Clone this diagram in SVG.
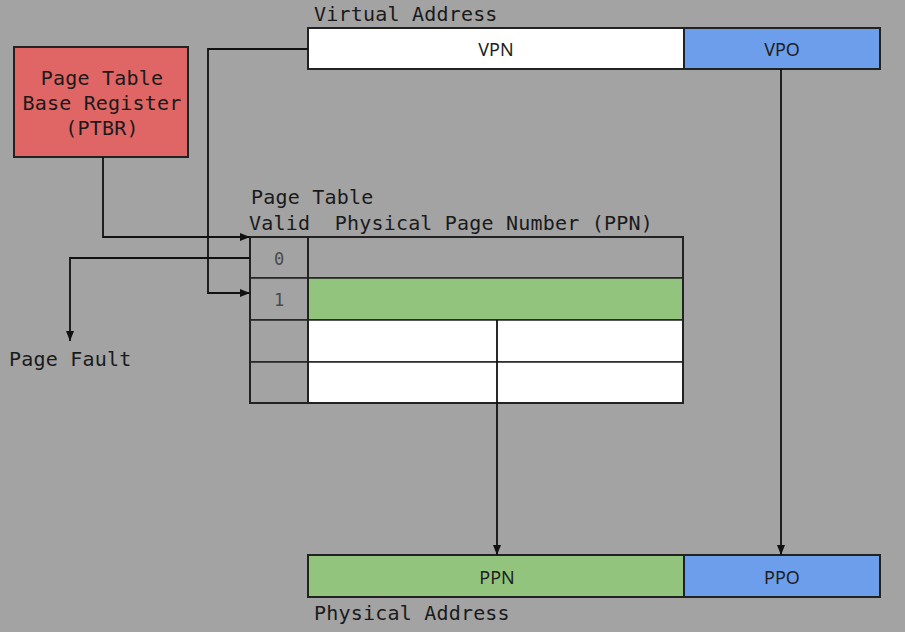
<svg xmlns="http://www.w3.org/2000/svg" width="905" height="632" viewBox="0 0 905 632">
<defs>
<marker id="arr" viewBox="0 0 10 10" refX="10" refY="5" markerWidth="10" markerHeight="10" markerUnits="userSpaceOnUse" orient="auto">
<path d="M0,1 L10,5 L0,9 Z" fill="#111"/>
</marker>
<style>
.mono{font-family:"DejaVu Sans Mono","Liberation Mono",monospace;font-size:20px;letter-spacing:0.2px;fill:#1a1a1a;white-space:pre}
.lab{font-family:"Noto Sans","DejaVu Sans",sans-serif;font-size:18px;fill:#1e1e1e;text-anchor:middle;dominant-baseline:central}
.box{stroke:#222;stroke-width:2}
.cell{stroke:#222;stroke-width:1.5}
.con{fill:none;stroke:#111;stroke-width:1.8}
.num{font-family:"DejaVu Sans Mono","Liberation Mono",monospace;font-size:17px;fill:#4a4a4a;text-anchor:middle;dominant-baseline:central}
</style>
</defs>
<rect x="0" y="0" width="905" height="632" fill="#a3a3a3"/>

<g id="virtual-address">
<text class="mono" x="314" y="21">Virtual Address</text>
<rect class="box" x="308" y="28" width="376" height="41" fill="#ffffff"/>
<rect class="box" x="684" y="28" width="196" height="41" fill="#6d9eeb"/>
<text class="lab" x="496" y="49">VPN</text>
<text class="lab" x="782" y="49">VPO</text>
</g>

<g id="ptbr">
<rect class="box" x="14" y="47" width="174" height="110" fill="#e06666"/>
<text class="mono" x="102" y="85" text-anchor="middle">Page Table</text>
<text class="mono" x="102" y="110" text-anchor="middle">Base Register</text>
<text class="mono" x="102" y="135" text-anchor="middle">(PTBR)</text>
</g>

<g id="page-table">
<text class="mono" x="251" y="204">Page Table</text>
<text class="mono" x="249" y="230" xml:space="preserve">Valid  Physical Page Number (PPN)</text>
<rect class="cell" x="308" y="237" width="375" height="41" fill="#a3a3a3"/>
<rect class="cell" x="308" y="278" width="375" height="42" fill="#93c47d"/>
<rect class="cell" x="308" y="320" width="375" height="42" fill="#ffffff"/>
<rect class="cell" x="308" y="362" width="375" height="41" fill="#ffffff"/>
<rect class="cell" x="250" y="237" width="58" height="41" fill="#a3a3a3"/>
<rect class="cell" x="250" y="278" width="58" height="42" fill="#a3a3a3"/>
<rect class="cell" x="250" y="320" width="58" height="42" fill="#a3a3a3"/>
<rect class="cell" x="250" y="362" width="58" height="41" fill="#a3a3a3"/>
<rect x="250" y="237" width="433" height="166" fill="none" stroke="#222" stroke-width="2"/>
<line x1="308" y1="237" x2="308" y2="403" stroke="#222" stroke-width="2"/>
<text class="num" x="279" y="259">0</text>
<text class="num" x="279" y="300">1</text>
</g>

<g id="page-fault">
<text class="mono" x="9" y="366">Page Fault</text>
</g>

<g id="physical-address">
<rect class="box" x="308" y="555" width="376" height="42" fill="#93c47d"/>
<rect class="box" x="684" y="555" width="196" height="42" fill="#6d9eeb"/>
<text class="lab" x="497" y="577">PPN</text>
<text class="lab" x="782" y="577">PPO</text>
<text class="mono" x="314" y="620">Physical Address</text>
</g>

<g id="connectors">
<path class="con" d="M103,157 V237 H250" marker-end="url(#arr)"/>
<path class="con" d="M308,49 H208 V293 H250" marker-end="url(#arr)"/>
<path class="con" d="M250,258 H70 V341" marker-end="url(#arr)"/>
<path class="con" d="M497,320 V555" marker-end="url(#arr)"/>
<path class="con" d="M781,69 V555" marker-end="url(#arr)"/>
</g>
</svg>
